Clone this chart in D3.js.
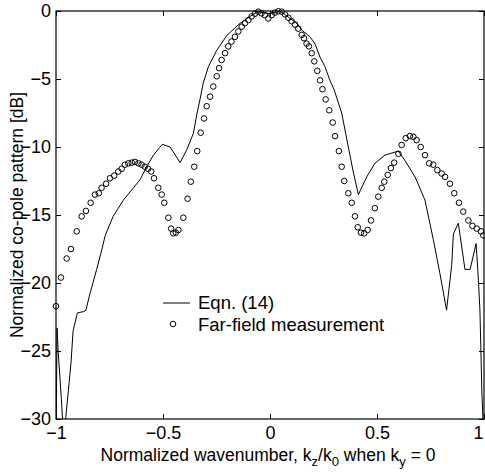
<!DOCTYPE html>
<html lang="en">
<head>
    <meta charset="UTF-8">
    <title>Normalized co-pole pattern</title>
    <script src="https://d3js.org/d3.v7.min.js"></script>
    <style>
        body {
            margin: 0;
            padding: 0;
            background: #ffffff;
            font-family: Arial, 'Liberation Sans', sans-serif;
        }
        .tick-label {
            font-size: 18px;
            fill: #000;
        }
        .axis-title {
            font-size: 17.5px;
            fill: #000;
        }
        .legend-text {
            font-size: 18.5px;
            fill: #000;
        }
    </style>
</head>
<body>
    <div id="chart"></div>

    <script>
        // Eqn. (14) curve: kz/k0 and pattern in dB
        const eqnX = [-1.0, -0.995, -0.99, -0.975, -0.962, -0.955, -0.93, -0.92, -0.90, -0.87, -0.86, -0.845,
            -0.81, -0.79, -0.77, -0.733, -0.685, -0.638, -0.607, -0.576, -0.545, -0.503, -0.467, -0.42,
            -0.389, -0.358, -0.342, -0.327, -0.312, -0.288, -0.249, -0.202, -0.14, -0.093, -0.06, 0.0,
            0.047, 0.125, 0.148, 0.187, 0.21, 0.234, 0.257, 0.28, 0.30, 0.335, 0.366, 0.39, 0.413, 0.452,
            0.49, 0.537, 0.6, 0.631, 0.678, 0.724, 0.763, 0.794, 0.825, 0.849, 0.857, 0.88, 0.911, 0.935,
            0.963, 0.974, 0.981, 0.99, 1.0];
        const eqnDb = [-32, -23.3, -25, -28.5, -32, -30, -25.9, -23.5, -22.2, -22.1, -22.0, -21.0,
            -19.0, -17.8, -16.5, -15.1, -13.9, -13.0, -12.4, -11.45, -10.6, -9.8, -10.0, -11.15,
            -10.2, -9.0, -7.6, -6.5, -5.3, -4.1, -2.9, -1.8, -0.9, -0.4, -0.05, -0.2,
            0.0, -0.9, -1.4, -1.9, -2.4, -3.4, -4.1, -5.1, -5.8, -7.5, -10.0, -11.9, -13.5, -12.2,
            -11.2, -10.6, -10.3, -11.0, -12.2, -13.9, -16.8, -19.3, -22.0, -18.7, -16.4, -15.6, -19.0, -19.0,
            -17.1, -19.8, -22.0, -28, -32];

        // far-field measurement points
        const measX = [-1.0, -0.977, -0.95, -0.93, -0.903, -0.88, -0.86, -0.838, -0.818, -0.80, -0.787,
            -0.766, -0.748, -0.728, -0.709, -0.693, -0.678, -0.662, -0.646, -0.631, -0.615, -0.60, -0.585,
            -0.57, -0.555, -0.542, -0.522, -0.506, -0.494, -0.475, -0.462, -0.452, -0.44, -0.428, -0.405,
            -0.385, -0.37, -0.354, -0.34, -0.324, -0.308, -0.296, -0.28, -0.265, -0.249, -0.238, -0.226,
            -0.21, -0.195, -0.18, -0.164, -0.148, -0.132, -0.117, -0.101, -0.086, -0.07, -0.055, -0.04,
            -0.024, -0.008, 0.008, 0.023, 0.039, 0.055, 0.07, 0.086, 0.101, 0.117, 0.132, 0.148, 0.159,
            0.171, 0.182, 0.195, 0.207, 0.221, 0.234, 0.245, 0.26, 0.277, 0.293, 0.304, 0.322, 0.335,
            0.347, 0.366, 0.382, 0.397, 0.41, 0.425, 0.44, 0.456, 0.472, 0.49, 0.506, 0.522, 0.534, 0.55,
            0.565, 0.58, 0.60, 0.615, 0.634, 0.654, 0.67, 0.685, 0.704, 0.724, 0.744, 0.763, 0.782, 0.802,
            0.818, 0.841, 0.861, 0.883, 0.903, 0.927, 0.946, 0.966, 0.986, 0.997];
        const measDb = [-21.7, -19.6, -18.2, -17.5, -16.2, -15.1, -14.7, -14.1, -13.5, -13.4, -13.0,
            -12.7, -12.3, -12.1, -11.8, -11.6, -11.3, -11.2, -11.15, -11.1, -11.2, -11.3, -11.45,
            -11.6, -11.8, -12.3, -13.0, -13.5, -14.1, -15.2, -16.0, -16.35, -16.3, -16.1, -15.2,
            -13.8, -12.55, -11.45, -10.3, -8.95, -7.9, -7.0, -6.3, -5.55, -4.8, -4.2, -3.6,
            -3.1, -2.6, -2.25, -1.9, -1.5, -1.15, -0.9, -0.66, -0.4, -0.2, -0.05, -0.17,
            -0.3, -0.55, -0.3, -0.12, -0.02, -0.05, -0.25, -0.5, -0.75, -1.0, -1.3, -1.76, -2.0,
            -2.4, -2.6, -3.1, -3.7, -4.4, -5.1, -5.75, -6.5, -7.3, -8.2, -9.2, -10.3, -11.45,
            -12.5, -13.4, -14.1, -15.1, -15.9, -16.3, -16.35, -16.1, -15.4, -14.5, -13.65, -13.0, -12.55, -12.05,
            -11.55, -11.15, -10.5, -9.85, -9.35, -9.2, -9.25, -9.5, -10.0, -10.6, -11.2, -11.3, -11.7, -11.95,
            -12.2, -12.7, -13.4, -14.1, -14.75, -15.4, -15.8, -16.0, -16.2, -16.5];

        const xTicks = [-1, -0.5, 0, 0.5, 1];
        const yTicks = [0, -5, -10, -15, -20, -25, -30];

        const width = 485;
        const height = 472;
        const margin = {top: 11, right: 1, bottom: 53, left: 56};

        const svg = d3.select("#chart")
            .append("svg")
            .attr("width", width)
            .attr("height", height);

        const x = d3.scaleLinear()
            .domain([-1, 1])
            .range([margin.left, width - margin.right]);

        const y = d3.scaleLinear()
            .domain([-30, 0])
            .range([height - margin.bottom, margin.top]);

        svg.append("clipPath")
            .attr("id", "plot-clip")
            .append("rect")
            .attr("x", x(-1))
            .attr("y", y(0))
            .attr("width", x(1) - x(-1))
            .attr("height", y(-30) - y(0));

        // inward ticks on all four sides, like the original
        const tickLen = 5;
        const axisStyle = g => {
            g.select(".domain").remove();
            g.selectAll(".tick line").attr("stroke", "#000");
            g.selectAll("text")
                .attr("class", "tick-label")
                .attr("font-family", null)
                .attr("font-size", null);
        };

        const xAxisG = svg.append("g")
            .attr("transform", `translate(0,${y(-30)})`)
            .call(d3.axisBottom(x).tickValues(xTicks).tickSize(-tickLen).tickPadding(7).tickFormat(d3.format("")))
            .call(axisStyle);

        // the last label sits at the page edge; keep it inside
        xAxisG.selectAll(".tick text")
            .filter(d => d === 1)
            .attr("text-anchor", "end")
            .attr("dx", -1);

        svg.append("g")
            .attr("transform", `translate(0,${y(0)})`)
            .call(d3.axisTop(x).tickValues(xTicks).tickSize(-tickLen).tickFormat(""))
            .call(axisStyle);

        svg.append("g")
            .attr("transform", `translate(${x(-1)},0)`)
            .call(d3.axisLeft(y).tickValues(yTicks).tickSize(-tickLen).tickPadding(5).tickFormat(d3.format("")))
            .call(axisStyle);

        svg.append("g")
            .attr("transform", `translate(${x(1)},0)`)
            .call(d3.axisRight(y).tickValues(yTicks).tickSize(-tickLen).tickFormat(""))
            .call(axisStyle);

        // box
        svg.append("rect")
            .attr("x", x(-1))
            .attr("y", y(0))
            .attr("width", x(1) - x(-1))
            .attr("height", y(-30) - y(0))
            .attr("fill", "none")
            .attr("stroke", "#000")
            .attr("stroke-width", 1.2);

        const eqnData = eqnX.map((v, i) => ({x: v, db: eqnDb[i]}));
        const measData = measX.map((v, i) => ({x: v, db: measDb[i]}));

        const line = d3.line()
            .x(d => x(d.x))
            .y(d => y(d.db));

        svg.append("path")
            .datum(eqnData)
            .attr("clip-path", "url(#plot-clip)")
            .attr("fill", "none")
            .attr("stroke", "#000")
            .attr("stroke-width", 1)
            .attr("d", line);

        svg.append("g")
            .selectAll("circle")
            .data(measData)
            .join("circle")
            .attr("cx", d => x(d.x))
            .attr("cy", d => y(d.db))
            .attr("r", 2.8)
            .attr("fill", "none")
            .attr("stroke", "#000")
            .attr("stroke-width", 1);

        // legend
        const legend = svg.append("g").attr("transform", "translate(163,303)");
        legend.append("line")
            .attr("x1", 0).attr("x2", 27)
            .attr("y1", 0).attr("y2", 0)
            .attr("stroke", "#000")
            .attr("stroke-width", 1);
        legend.append("text")
            .attr("class", "legend-text")
            .attr("x", 35).attr("y", 6)
            .text("Eqn. (14)");
        legend.append("circle")
            .attr("cx", 10).attr("cy", 21)
            .attr("r", 2.8)
            .attr("fill", "none")
            .attr("stroke", "#000");
        legend.append("text")
            .attr("class", "legend-text")
            .attr("x", 35).attr("y", 28)
            .text("Far-field measurement");

        // axis titles
        const xTitle = svg.append("text")
            .attr("class", "axis-title")
            .attr("x", 268)
            .attr("y", 461)
            .attr("text-anchor", "middle");
        xTitle.append("tspan").text("Normalized wavenumber, k");
        xTitle.append("tspan").attr("dy", 5).attr("font-size", 13).text("z");
        xTitle.append("tspan").attr("dy", -5).text("/k");
        xTitle.append("tspan").attr("dy", 5).attr("font-size", 13).text("0");
        xTitle.append("tspan").attr("dy", -5).text(" when k");
        xTitle.append("tspan").attr("dy", 5).attr("font-size", 13).text("y");
        xTitle.append("tspan").attr("dy", -5).text(" = 0");

        svg.append("text")
            .attr("class", "axis-title")
            .attr("transform", `translate(23,${(y(0) + y(-30)) / 2}) rotate(-90)`)
            .attr("text-anchor", "middle")
            .text("Normalized co-pole pattern [dB]");
    </script>
</body>
</html>
